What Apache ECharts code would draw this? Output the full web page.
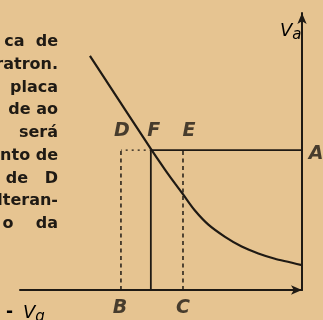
<!DOCTYPE html>
<html>
<head>
<meta charset="utf-8">
<script src="https://cdn.jsdelivr.net/npm/echarts@6/dist/echarts.min.js"></script>
<style>
  html, body { margin: 0; padding: 0; background: #e6c491; }
  #chart { width: 323px; height: 320px; }
</style>
</head>
<body>
<div id="chart"></div>
<script>
// curve Va vs -Vg (x grows to the left, origin at right)
var curveX = [75.2, 53.3, 48.6, 45.0, 42.1, 37.9, 33.2, 27.3, 21.4, 15.5, 9.6, 0.0];
var curveY = [84.5, 50.5, 43.5, 38.4, 34.4, 28.6, 23.6, 19.2, 15.7, 13.2, 11.3, 9.0];

// operating level A and the three grid voltages
var levelA = 50.5;
var xB = 64.2;
var xF = 53.6;
var xC = 42.2;

// cut-off paragraph on the left
var textLines = ["ca  de", "ratron.", "placa", "de ao", "será", "nto de", "de   D", "lteran-", "o    da"];

var ink = "#1f1a14";
var chart = echarts.init(document.getElementById("chart"));

var curveData = curveX.map(function (x, i) {
  return [x, curveY[i]];
});

function seg(a, b, type, width) {
  return {
    type: "line",
    data: [a, b],
    symbol: "none",
    silent: true,
    lineStyle: { color: ink, width: width || 1.5, type: type || "solid" }
  };
}

function letter(name, pt, offset) {
  return {
    name: name,
    value: pt,
    label: { show: true, formatter: name, offset: offset }
  };
}

var graphics = textLines.map(function (t, i) {
  return {
    type: "text",
    x: 58,
    y: 42 + i * 22.75,
    style: {
      text: t,
      font: "bold 16px 'DejaVu Sans'",
      fill: ink,
      align: "right",
      verticalAlign: "middle"
    }
  };
});
var subRich = {
  m: { fontFamily: "DejaVu Sans", fontWeight: "bold", fontSize: 17, color: ink, padding: [0, 10, 0, 0] },
  v: { fontFamily: "DejaVu Sans", fontStyle: "italic", fontSize: 18, color: ink },
  s: { fontFamily: "DejaVu Sans", fontStyle: "italic", fontSize: 15, color: ink, padding: [9, 0, 0, 0] }
};
graphics.push({
  type: "text",
  x: 280,
  y: 19,
  style: { text: "{v|V}{s|a}", rich: subRich }
});
graphics.push({
  type: "text",
  x: 6,
  y: 301,
  style: { text: "{m|-}{v|V}{s|g}", rich: subRich }
});

chart.setOption({
  backgroundColor: "#e6c491",
  animation: false,
  grid: { left: 20, right: 21, top: 13, bottom: 30 },
  xAxis: {
    type: "value",
    inverse: true,
    min: 0,
    max: 100,
    axisLine: {
      show: true,
      symbol: ["none", "arrow"],
      symbolSize: [7, 11],
      lineStyle: { color: ink, width: 2 }
    },
    axisTick: { show: false },
    axisLabel: { show: false },
    splitLine: { show: false }
  },
  yAxis: {
    type: "value",
    position: "right",
    min: 0,
    max: 100,
    axisLine: {
      show: true,
      symbol: ["none", "arrow"],
      symbolSize: [7, 11],
      lineStyle: { color: ink, width: 2 }
    },
    axisTick: { show: false },
    axisLabel: { show: false },
    splitLine: { show: false }
  },
  graphic: graphics,
  series: [
    {
      type: "line",
      data: curveData,
      smooth: 0.3,
      symbol: "none",
      silent: true,
      lineStyle: { color: ink, width: 2.2 }
    },
    seg([0, levelA], [curveX[1], levelA], "solid", 1.6),
    seg([xF, 0], [xF, levelA], "solid", 1.8),
    seg([curveX[1], levelA], [xB, levelA], [2, 4], 1.4),
    seg([xB, 0], [xB, levelA], [4, 3.5], 1.5),
    seg([xC, 0], [xC, levelA], [4, 3.5], 1.5),
    {
      type: "scatter",
      symbolSize: 0,
      clip: false,
      silent: true,
      label: {
        color: ink,
        fontFamily: "DejaVu Sans",
        fontStyle: "italic",
        fontWeight: "bold",
        fontSize: 19
      },
      data: [
        letter("D", [xB, levelA], [1, -19]),
        letter("F", [xF, levelA], [3, -19]),
        letter("E", [xC, levelA], [6, -19]),
        letter("B", [xB, 0], [-1, 18]),
        letter("C", [xC, 0], [0, 18]),
        letter("A", [0, levelA], [14, 4])
      ]
    }
  ]
});
</script>
</body>
</html>
